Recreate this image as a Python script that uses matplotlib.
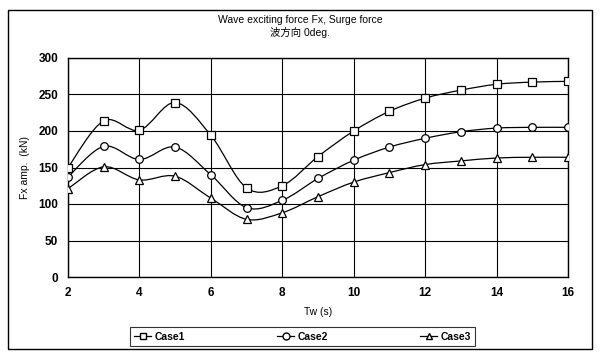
import numpy as np
import matplotlib
matplotlib.use("Agg")
import matplotlib.pyplot as plt
from matplotlib.path import Path
from matplotlib.patches import PathPatch, Rectangle
from matplotlib.lines import Line2D

plt.rcParams['font.family'] = ['Liberation Sans', 'Noto Sans CJK JP', 'DejaVu Sans']

# Data
tw = [2, 3, 4, 5, 6, 7, 8, 9, 10, 11, 12, 13, 14, 15, 16]
case1 = [150, 214, 201, 239, 194, 122, 125, 165, 200, 227, 245, 256, 264, 267, 268]
case2 = [137, 179, 161, 178, 140, 95, 105, 135, 160, 178, 190, 199, 204, 205, 205]
case3 = [121, 151, 133, 138, 108, 79, 88, 110, 130, 143, 154, 159, 163, 164, 164]
labels = ["Case1", "Case2", "Case3"]
markers = ["s", "o", "^"]


def smooth_path(x, y):
    # Excel-style smoothed line: cubic Bezier segments through the points
    pts = np.column_stack([x, y]).astype(float)
    verts = [pts[0]]
    codes = [Path.MOVETO]
    n = len(pts)
    for i in range(n - 1):
        p0 = pts[i - 1] if i > 0 else pts[i]
        p1 = pts[i]
        p2 = pts[i + 1]
        p3 = pts[i + 2] if i + 2 < n else pts[i + 1]
        c1 = p1 + (p2 - p0) / 6.0
        c2 = p2 - (p3 - p1) / 6.0
        verts += [c1, c2, p2]
        codes += [Path.CURVE4] * 3
    return Path(verts, codes)


fig = plt.figure(figsize=(6.0, 3.55), dpi=100)
ax = fig.add_axes([68 / 600, 1 - 277 / 355, 500 / 600, 219 / 355])

# outer chart border
fig.patches.append(Rectangle((8 / 600, 1 - 349 / 355), 584 / 600, 339 / 355,
                             transform=fig.transFigure, fill=False,
                             edgecolor="black", linewidth=1.0))

handles = []
for vals, lab, mk in zip([case1, case2, case3], labels, markers):
    ax.add_patch(PathPatch(smooth_path(tw, vals), facecolor="none",
                           edgecolor="black", linewidth=0.9, zorder=3))
    ax.plot(tw, vals, linestyle="none", marker=mk, markersize=5.5,
            markerfacecolor="white", markeredgecolor="black",
            markeredgewidth=0.9, zorder=4)
    handles.append(Line2D([], [], color="black", linewidth=0.9, marker=mk,
                          markersize=5, markerfacecolor="white",
                          markeredgecolor="black", label=lab))

ax.set_xlim(2, 16)
ax.set_ylim(0, 300)
ax.set_xticks(range(2, 17, 2))
ax.set_yticks(range(0, 301, 50))
ax.grid(True, color="black", linewidth=0.8)
ax.tick_params(length=0, labelsize=8.5, pad=7)
for lbl in ax.get_xticklabels() + ax.get_yticklabels():
    lbl.set_fontweight("bold")
for sp in ax.spines.values():
    sp.set_linewidth(1.0)

ax.set_xlabel("Tw (s)", fontsize=7.5, labelpad=6)
ax.set_ylabel("Fx amp.  (kN)", fontsize=7.5, labelpad=6)

fig.text(0.5, 1 - 20 / 355, "Wave exciting force Fx, Surge force",
         ha="center", va="center", fontsize=7.5)
fig.text(0.5, 1 - 33 / 355, "波方向 0deg.",
         ha="center", va="center", fontsize=7.5)

leg = fig.legend(handles=handles, ncol=3, loc="lower left",
                 bbox_to_anchor=(125 / 600, 1 - 351 / 355, 355 / 600, 23 / 355),
                 mode="expand", fontsize=7.5, frameon=True, fancybox=False,
                 edgecolor="black", handlelength=1.6, handletextpad=0.3,
                 borderpad=0.4, columnspacing=3)
leg.get_frame().set_linewidth(0.8)
for t in leg.get_texts():
    t.set_fontweight("bold")

fig.savefig("out.png", dpi=100)
